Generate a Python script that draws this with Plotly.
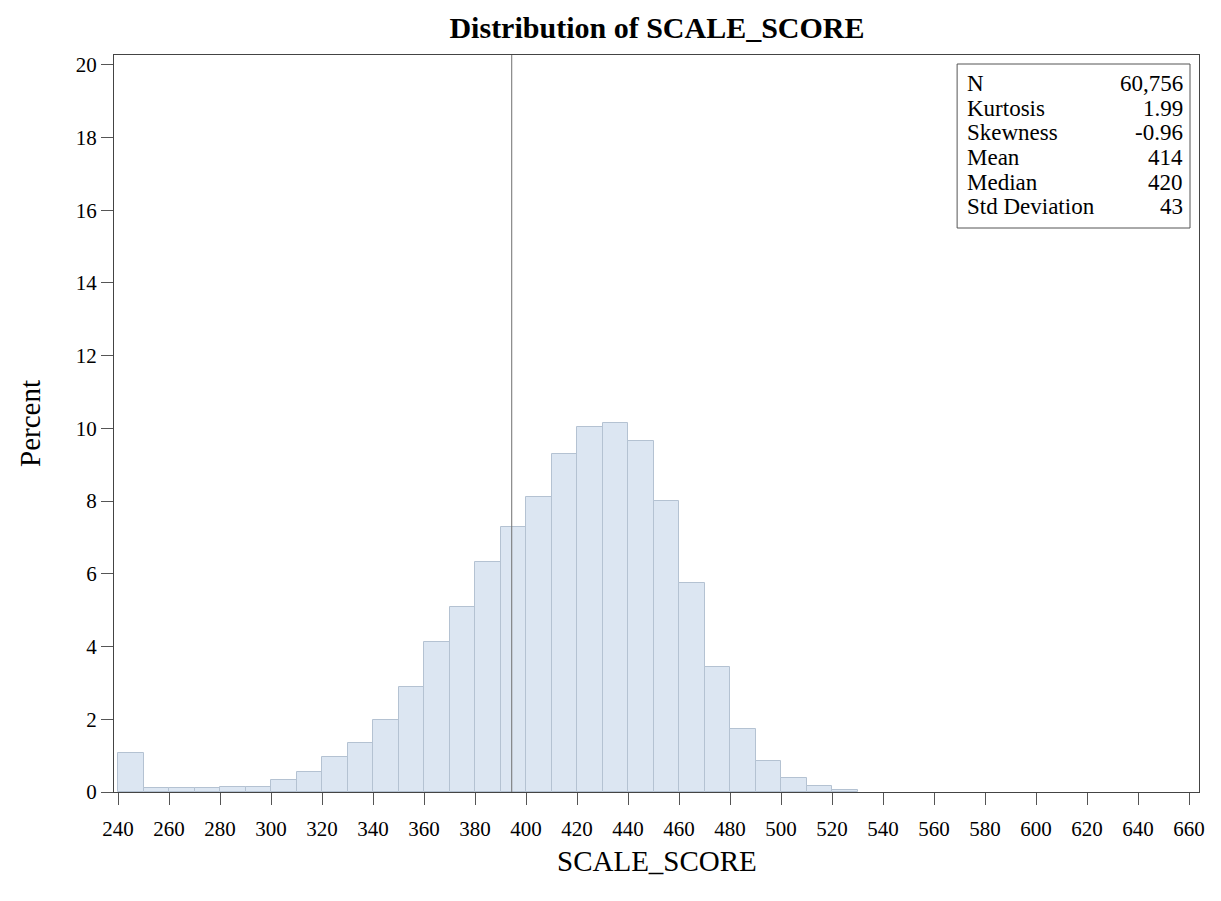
import plotly.graph_objects as go

# Histogram data (bin left edges, width 10) and percents
bin_left = [240, 250, 260, 270, 280, 290, 300, 310, 320, 330, 340, 350, 360, 370,
            380, 390, 400, 410, 420, 430, 440, 450, 460, 470, 480, 490, 500, 510, 520]
percent = [1.07, 0.10, 0.10, 0.10, 0.15, 0.15, 0.33, 0.55, 0.96, 1.35, 1.98, 2.89, 4.13, 5.09,
           6.33, 7.29, 8.12, 9.29, 10.04, 10.15, 9.66, 8.00, 5.75, 3.44, 1.72, 0.86, 0.39, 0.16, 0.05]
bin_width = 10
ref_line_x = 394.4

stat_labels = ["N", "Kurtosis", "Skewness", "Mean", "Median", "Std Deviation"]
stat_values = ["60,756", "1.99", "-0.96", "414", "420", "43"]

x_ticks = list(range(240, 661, 20))
y_ticks = list(range(0, 21, 2))

FONT = "Liberation Serif"
OFF = 8  # page body margin

fig = go.Figure()
fig.add_trace(go.Bar(
    x=[b + bin_width / 2 for b in bin_left],
    y=percent,
    width=bin_width,
    marker=dict(color="#DCE6F2", line=dict(color="#B4C2D2", width=1)),
    hoverinfo="x+y",
))

fig.add_shape(type="line", xref="x", yref="paper", x0=ref_line_x, x1=ref_line_x,
              y0=0, y1=1, line=dict(color="#707070", width=1))

# Inset statistics box (positions in reference pixel space converted to paper coords)
L, B, W, H = 113.5, 792, 1085.5, 737
def px(x):
    return (x - L) / W
def py(y):
    return (B - y) / H

fig.add_shape(type="rect", xref="paper", yref="paper",
              x0=px(957), x1=px(1190), y0=py(228), y1=py(64),
              line=dict(color="#555555", width=1), fillcolor="white")
row_y = [83, 108, 133, 157, 182, 207]
for lab, val, yy in zip(stat_labels, stat_values, row_y):
    fig.add_annotation(xref="paper", yref="paper", x=px(965), y=py(yy), text=lab,
                       showarrow=False, xanchor="left", yanchor="middle",
                       font=dict(family=FONT, size=23, color="black"))
    fig.add_annotation(xref="paper", yref="paper", x=px(1185), y=py(yy), text=val,
                       showarrow=False, xanchor="right", yanchor="middle",
                       font=dict(family=FONT, size=23, color="black"))

# x-axis title placed precisely
fig.add_annotation(xref="paper", yref="paper", x=px(657), y=py(861), text="SCALE_SCORE",
                   showarrow=False, xanchor="center", yanchor="middle",
                   font=dict(family=FONT, size=29, color="black"))

fig.update_layout(
    width=1221 - OFF, height=901 - OFF,
    margin=dict(l=113.5 - OFF, r=22, t=55 - OFF, b=109),
    paper_bgcolor="white", plot_bgcolor="white",
    showlegend=False,
    bargap=0,
    font=dict(family=FONT, color="black"),
    title=dict(text="<b>Distribution of SCALE_SCORE</b>", x=(657 - OFF) / (1221 - OFF),
               xanchor="center",
               y=1 - (27 - OFF) / (901 - OFF), yanchor="middle", yref="container",
               font=dict(family=FONT, size=30, color="black")),
)
fig.update_xaxes(
    range=[238.43, 663.92], tickvals=x_ticks, ticktext=[str(v) for v in x_ticks],
    showgrid=False, zeroline=False, showline=True, mirror=True,
    linecolor="#444444", linewidth=1,
    ticks="outside", ticklen=12, tickcolor="#555555", ticklabelstandoff=6,
    tickfont=dict(family=FONT, size=21, color="black"),
)
fig.update_yaxes(
    range=[0, 20.27], tickvals=y_ticks, ticktext=[str(v) for v in y_ticks],
    showgrid=False, zeroline=False, showline=True, mirror=True,
    linecolor="#444444", linewidth=1,
    ticks="outside", ticklen=12, tickcolor="#555555",
    tickfont=dict(family=FONT, size=21, color="black"),
    title=dict(text="Percent", font=dict(family=FONT, size=29, color="black"), standoff=26),
)

fig.write_html("out.html")
